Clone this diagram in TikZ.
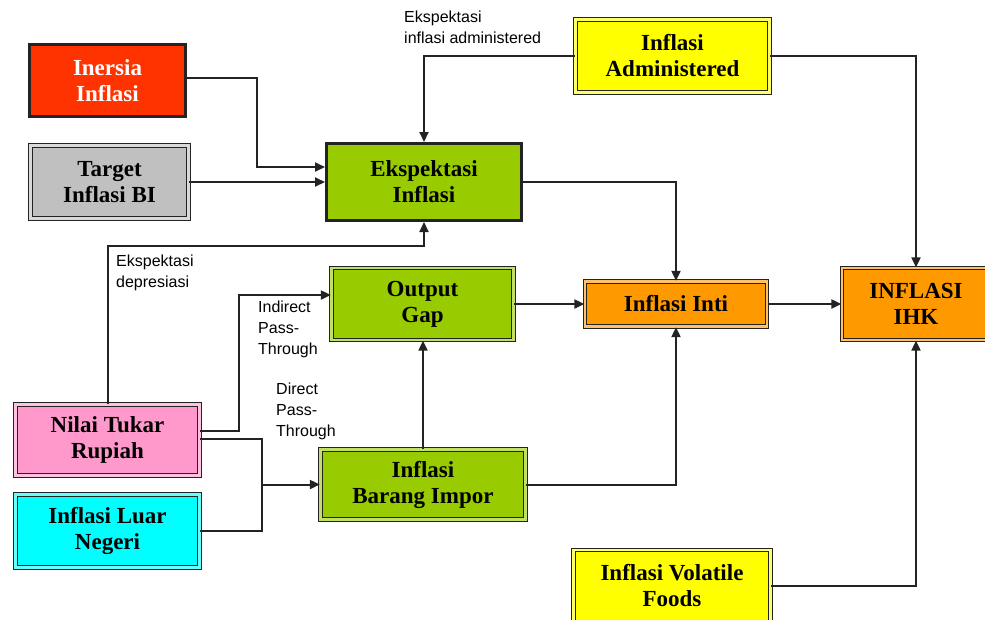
\documentclass[tikz,border=0pt]{standalone}
\usepackage{fontspec}
\setmainfont{Liberation Serif}
\setsansfont{Liberation Sans}
\usepackage{tikz}
\usetikzlibrary{arrows.meta, calc}
\definecolor{bred}{RGB}{255,51,0}
\definecolor{bgray}{RGB}{192,192,192}
\definecolor{bgreen}{RGB}{153,204,0}
\definecolor{byellow}{RGB}{255,255,0}
\definecolor{borange}{RGB}{255,153,0}
\definecolor{bpink}{RGB}{255,153,204}
\definecolor{bcyan}{RGB}{0,255,255}
\definecolor{frame}{RGB}{35,35,35}

\begin{document}
\begin{tikzpicture}[x=1pt, y=-1pt,
      cell/.style={draw=frame, fill=#1, align=center, inner sep=2pt,
                   font=\fontsize{23}{26}\selectfont\bfseries},
      box/.style={cell=#1, line width=1.3pt, double=#1!60!white, double distance=2.2pt},
      ar/.style={-{Triangle[length=10pt, width=9pt]}, draw=frame, line width=2pt},
      ln/.style={draw=frame, line width=2pt},
      lbl/.style={font=\sffamily\fontsize{16}{21}\selectfont, align=left, inner sep=0pt, anchor=north west}]
    \path[fill=white, use as bounding box] (0,0) rectangle (985,619);
    \node[cell=bred, text=white, line width=2.4pt, minimum width=156pt, minimum height=72pt] (inersia) at (107.5,80.5) {Inersia\\Inflasi};
    \node[box=bgray, minimum width=158pt, minimum height=73pt] (target) at (109.5,182) {Target\\Inflasi BI};
    \node[cell=bgreen, line width=3pt, minimum width=195pt, minimum height=77pt] (ekspek) at (424,182) {Ekspektasi\\Inflasi};
    \node[box=byellow, minimum width=194pt, minimum height=73pt] (admin) at (672.5,56) {Inflasi\\Administered};
    \node[box=bgreen, minimum width=182pt, minimum height=72pt] (outgap) at (422.5,304) {Output\\Gap};
    \node[box=borange, minimum width=182pt, minimum height=45pt] (inti) at (676,304) {Inflasi Inti};
    \node[box=borange, minimum width=148pt, minimum height=72pt] (ihk) at (916,304) {INFLASI\\IHK};
    \node[box=bpink, minimum width=184pt, minimum height=71pt] (nilai) at (107.5,440) {Nilai Tukar\\Rupiah};
    \node[box=bcyan, minimum width=184pt, minimum height=73pt] (luar) at (107.5,531) {Inflasi Luar\\Negeri};
    \node[box=bgreen, minimum width=205pt, minimum height=70pt] (impor) at (423,484.5) {Inflasi\\Barang Impor};
    \node[box=byellow, minimum width=197pt, minimum height=72pt] (volatile) at (672,586) {Inflasi Volatile\\Foods};

    \node[lbl] (lbladmin) at (404,11) {Ekspektasi\\inflasi administered};
    \node[lbl] (lbldepr) at (116,255) {Ekspektasi\\depresiasi};
    \node[lbl] (lblind) at (258,301) {Indirect\\Pass-\\Through};
    \node[lbl] (lbldir) at (276,383) {Direct\\Pass-\\Through};

    \coordinate (join) at ($(impor.west)+(-58,0)$);

    \draw[ar] ($(inersia.east)+(0,-2.5)$) -- ++(70,0) |- ($(ekspek.west)+(0,-15)$);
    \draw[ar] (target.east) -- (target.east -| ekspek.west);
    \draw[ar] (admin.west) -| (ekspek.north);
    \draw[ar] (admin.east) -| (ihk.north);
    \draw[ar] (ekspek.east) -| (inti.north);
    \draw[ar] (nilai.north) |- ($(ekspek.south)+(0,24)$) -- (ekspek.south);
    \draw[ar] ($(nilai.east)+(0,-9)$) -- ++(39,0) |- ($(outgap.west)+(0,-9)$);
    \draw[ln] ($(nilai.east)+(0,-1)$) -| (join);
    \draw[ln] (luar.east) -| (join);
    \draw[ar] (join) -- (impor.west);
    \draw[ar] (impor.north) -- (impor.north |- outgap.south);
    \draw[ar] (outgap.east) -- (outgap.east -| inti.west);
    \draw[ar] (impor.east) -| (inti.south);
    \draw[ar] (inti.east) -- (inti.east -| ihk.west);
    \draw[ar] (volatile.east) -| (ihk.south);
  \end{tikzpicture}
\end{document}
